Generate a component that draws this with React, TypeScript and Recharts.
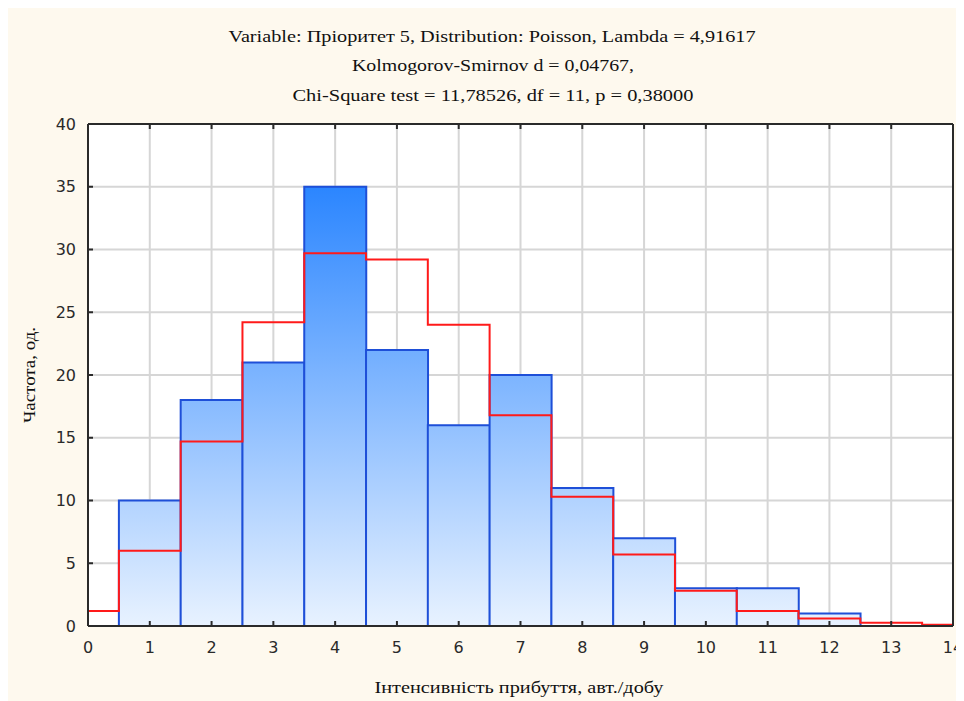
import React from "react";
import {
  ComposedChart,
  Bar,
  Line,
  XAxis,
  YAxis,
  CartesianGrid,
} from "recharts";

// ---- data ----
const categories: number[] = [0, 1, 2, 3, 4, 5, 6, 7, 8, 9, 10, 11, 12, 13, 14];
const observedCounts: (number | null)[] = [null, 10, 18, 21, 35, 22, 16, 20, 11, 7, 3, 3, 1, null, null];
const expectedPoisson: number[] = [1.2, 6.0, 14.7, 24.2, 29.7, 29.2, 24.0, 16.8, 10.3, 5.7, 2.8, 1.2, 0.6, 0.25, 0.1];
const xTicks: number[] = [0, 1, 2, 3, 4, 5, 6, 7, 8, 9, 10, 11, 12, 13, 14];
const yTicks: number[] = [0, 5, 10, 15, 20, 25, 30, 35, 40];

const titleLines: string[] = [
  "Variable: Пріоритет 5, Distribution: Poisson, Lambda = 4,91617",
  "Kolmogorov-Smirnov d = 0,04767,",
  "Chi-Square test = 11,78526, df = 11, p = 0,38000",
];
const xLabel = "Інтенсивність прибуття, авт./добу";
const yLabel = "Частота, од.";

const data = categories.map((c, i) => ({
  x: c,
  count: observedCounts[i],
  expected: expectedPoisson[i],
}));

// ---- layout ----
const W = 956;
const H = 693;
const PLOT_TOP = 116;
const PLOT_BOTTOM = 618;
const PLOT_LEFT = 80;
const PLOT_RIGHT = 945;

const tickFont = {
  fill: "#2a2a2a",
  fontSize: 16,
  fontFamily: "'DejaVu Sans', Verdana, sans-serif",
};
const serif = "'Liberation Serif', 'Times New Roman', serif";

const EmptyTick = () => <g />;

export default function App() {
  return (
    <div style={{ position: "relative", width: W, height: H, background: "#fef9ee" }}>
      <ComposedChart
        width={W}
        height={H}
        data={data}
        margin={{ top: PLOT_TOP - 1, right: W - PLOT_RIGHT - 1, bottom: 0, left: 0 }}
        barCategoryGap={0}
        barGap={0}
      >
        <defs>
          <linearGradient
            id="histGrad"
            gradientUnits="userSpaceOnUse"
            x1={0}
            y1={PLOT_TOP}
            x2={0}
            y2={PLOT_BOTTOM}
          >
            <stop offset="0%" stopColor="#1076ff" />
            <stop offset="100%" stopColor="#e8f2ff" />
          </linearGradient>
        </defs>
        <CartesianGrid
          xAxisId="bottom"
          yAxisId="left"
          stroke="#d6d6d6"
          strokeWidth={2}
          fill="#ffffff"
        />
        <XAxis
          xAxisId="bottom"
          dataKey="x"
          type="number"
          domain={[0, 14]}
          ticks={xTicks}
          allowDataOverflow
          height={H - PLOT_BOTTOM}
          axisLine={{ stroke: "#2a2a2a", strokeWidth: 2 }}
          tickLine={{ stroke: "#2a2a2a", strokeWidth: 2 }}
          tickSize={-5}
          tickMargin={21}
          tick={tickFont}
          interval={0}
        />
        <XAxis
          xAxisId="top"
          orientation="top"
          dataKey="x"
          type="number"
          domain={[0, 14]}
          ticks={xTicks}
          allowDataOverflow
          height={1}
          axisLine={{ stroke: "#2a2a2a", strokeWidth: 2 }}
          tickLine={{ stroke: "#2a2a2a", strokeWidth: 2 }}
          tickSize={-5}
          tick={<EmptyTick />}
          interval={0}
        />
        <YAxis
          yAxisId="left"
          type="number"
          domain={[0, 40]}
          ticks={yTicks}
          width={PLOT_LEFT}
          axisLine={{ stroke: "#2a2a2a", strokeWidth: 2 }}
          tickLine={{ stroke: "#2a2a2a", strokeWidth: 2 }}
          tickSize={-5}
          tickMargin={17}
          tick={tickFont}
          interval={0}
        />
        <YAxis
          yAxisId="right"
          orientation="right"
          type="number"
          domain={[0, 40]}
          ticks={yTicks}
          width={1}
          axisLine={{ stroke: "#2a2a2a", strokeWidth: 2 }}
          tickLine={{ stroke: "#2a2a2a", strokeWidth: 2 }}
          tickSize={-5}
          tick={<EmptyTick />}
          interval={0}
        />
        <Bar
          xAxisId="bottom"
          yAxisId="left"
          dataKey="count"
          fill="url(#histGrad)"
          stroke="#1e4fd8"
          strokeWidth={2}
          isAnimationActive={false}
        />
        <Line
          xAxisId="bottom"
          yAxisId="left"
          dataKey="expected"
          type="step"
          stroke="#ff1a1a"
          strokeWidth={2}
          dot={false}
          activeDot={false}
          isAnimationActive={false}
        />
      </ComposedChart>
      <svg
        width={W}
        height={H}
        style={{ position: "absolute", left: 0, top: 0, pointerEvents: "none" }}
      >
        <g fontFamily={serif} fontSize={16} fill="#111" textAnchor="middle">
          <text x={484} y={34} textLength={527} lengthAdjust="spacingAndGlyphs">{titleLines[0]}</text>
          <text x={485} y={63} textLength={282} lengthAdjust="spacingAndGlyphs">{titleLines[1]}</text>
          <text x={485} y={93} textLength={401} lengthAdjust="spacingAndGlyphs">{titleLines[2]}</text>
          <text x={511} y={685} textLength={289} lengthAdjust="spacingAndGlyphs">{xLabel}</text>
          <text
            x={0}
            y={0}
            transform={`translate(27, 367) rotate(-90)`}
            textLength={96}
            lengthAdjust="spacingAndGlyphs"
          >
            {yLabel}
          </text>
        </g>
      </svg>
    </div>
  );
}
